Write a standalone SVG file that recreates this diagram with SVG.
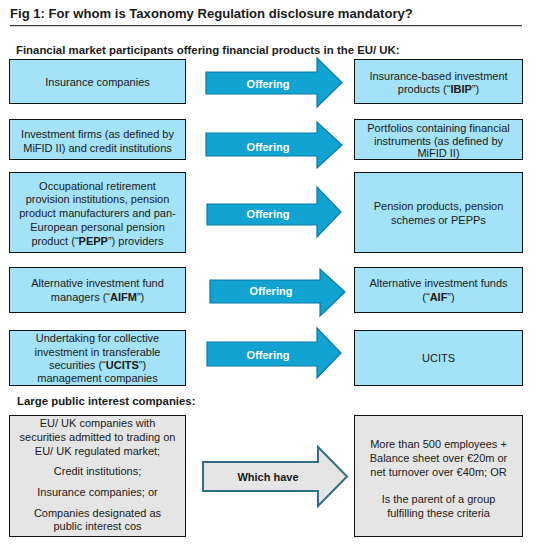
<svg xmlns="http://www.w3.org/2000/svg" width="541" height="550" viewBox="0 0 541 550">
<style>
text{font-family:"Liberation Sans",Arial,sans-serif;font-size:11px;fill:#1a1a1a;text-anchor:middle}
.b{font-weight:bold}
.t{font-size:13.1px;font-weight:bold;text-anchor:start}
.h{font-size:11.4px;font-weight:bold;text-anchor:start}
.blue{fill:#a3e2f7;stroke:#111;stroke-width:1}
.gray{fill:#e5e5e5;stroke:#111;stroke-width:1}
.arr{fill:#11a4d2;stroke:#0b7aa0;stroke-width:1.2}
.arrg{fill:#e5e5e5;stroke:#2e6f85;stroke-width:2}
.w{fill:#fff;font-weight:bold}
</style>
<rect width="541" height="550" fill="#fff"/>
<text class="t" x="10" y="18">Fig 1: For whom is Taxonomy Regulation disclosure mandatory?</text>
<line x1="10" y1="25.7" x2="522" y2="25.7" stroke="#111" stroke-width="1"/>
<text class="h" x="16" y="53.5">Financial market participants offering financial products in the EU/ UK:</text>
<text class="h" x="17" y="404.5">Large public interest companies:</text>

<g id="connectors">
<g id="a1"><polygon class="arr" points="206,72 317,72 317,58 342,82.5 317,107 317,94 206,94"/><text class="w" x="268" y="87.5">Offering</text></g>
<g id="a2"><polygon class="arr" points="206,133 317,133 317,122 342,145 317,168 317,156 206,156"/><text class="w" x="268" y="150.5">Offering</text></g>
<g id="a3"><polygon class="arr" points="207,204 317,204 317,187 341,212 317,237 317,225 207,225"/><text class="w" x="268" y="218">Offering</text></g>
<g id="a4"><polygon class="arr" points="210,280 320,280 320,269 345,292 320,316 320,303 210,303"/><text class="w" x="271" y="295">Offering</text></g>
<g id="a5"><polygon class="arr" points="207,342 317,342 317,328 341,353 317,378 317,366 207,366"/><text class="w" x="268" y="359">Offering</text></g>
<g id="a6"><polygon class="arrg" points="203,462 318,462 318,447 347,476.5 318,506 318,491 203,491"/><text class="b" x="268" y="480.5">Which have</text></g>
</g>

<g id="n-insurance"><rect class="blue" x="9.5" y="59.5" width="176" height="44"/><text x="97.5" y="86">Insurance companies</text></g>
<g id="n-investment-firms"><rect class="blue" x="9.5" y="119.5" width="176" height="40"/><text x="97.5" y="138">Investment firms (as defined by</text><text x="97.5" y="151.5">MiFID II) and credit institutions</text></g>
<g id="n-pension-providers"><rect class="blue" x="9.5" y="172.5" width="176" height="80"/>
<text x="97.5" y="189.5">Occupational retirement</text>
<text x="97.5" y="203.3">provision institutions, pension</text>
<text x="97.5" y="217">product manufacturers and pan-</text>
<text x="97.5" y="230.8">European personal pension</text>
<text x="97.5" y="244.6">product (“<tspan class="b">PEPP</tspan>”) providers</text></g>
<g id="n-aifm"><rect class="blue" x="9.5" y="267.5" width="176" height="45"/><text x="97.5" y="287">Alternative investment fund</text><text x="97.5" y="301">managers (“<tspan class="b">AIFM</tspan>”)</text></g>
<g id="n-ucits-mgmt"><rect class="blue" x="9.5" y="330.5" width="176" height="55"/>
<text x="97.5" y="342.4">Undertaking for collective</text>
<text x="97.5" y="355.7">investment in transferable</text>
<text x="97.5" y="369">securities (“<tspan class="b">UCITS</tspan>”)</text>
<text x="97.5" y="382.3">management companies</text></g>

<g id="n-ibip"><rect class="blue" x="354.5" y="59.5" width="168" height="44"/><text x="438.5" y="79.5">Insurance-based investment</text><text x="438.5" y="93">products (“<tspan class="b">IBIP</tspan>”)</text></g>
<g id="n-portfolios"><rect class="blue" x="354.5" y="119.5" width="168" height="40"/><text x="438.5" y="132">Portfolios containing financial</text><text x="438.5" y="144.5">instruments (as defined by</text><text x="438.5" y="157">MiFID II)</text></g>
<g id="n-pension-products"><rect class="blue" x="354.5" y="172.5" width="168" height="80"/><text x="438.5" y="210">Pension products, pension</text><text x="438.5" y="224">schemes or PEPPs</text></g>
<g id="n-aif"><rect class="blue" x="354.5" y="267.5" width="168" height="45"/><text x="438.5" y="287">Alternative investment funds</text><text x="438.5" y="301">(“<tspan class="b">AIF</tspan>”)</text></g>
<g id="n-ucits"><rect class="blue" x="354.5" y="330.5" width="168" height="55"/><text x="438.5" y="362">UCITS</text></g>

<g id="n-public-interest"><rect class="gray" x="9.5" y="415.5" width="176" height="121"/>
<text x="97.5" y="427">EU/ UK companies with</text>
<text x="97.5" y="440.7">securities admitted to trading on</text>
<text x="97.5" y="454.5">EU/ UK regulated market;</text>
<text x="97.5" y="475.2">Credit institutions;</text>
<text x="97.5" y="495.9">Insurance companies; or</text>
<text x="97.5" y="516.6">Companies designated as</text>
<text x="97.5" y="529.7">public interest cos</text></g>
<g id="n-criteria"><rect class="gray" x="354.5" y="415.5" width="168" height="121"/>
<text x="438.5" y="448.3">More than 500 employees +</text>
<text x="438.5" y="462.1">Balance sheet over €20m or</text>
<text x="438.5" y="475.9">net turnover over €40m; OR</text>
<text x="438.5" y="502.8">Is the parent of a group</text>
<text x="438.5" y="516.6">fulfilling these criteria</text></g>
</svg>
